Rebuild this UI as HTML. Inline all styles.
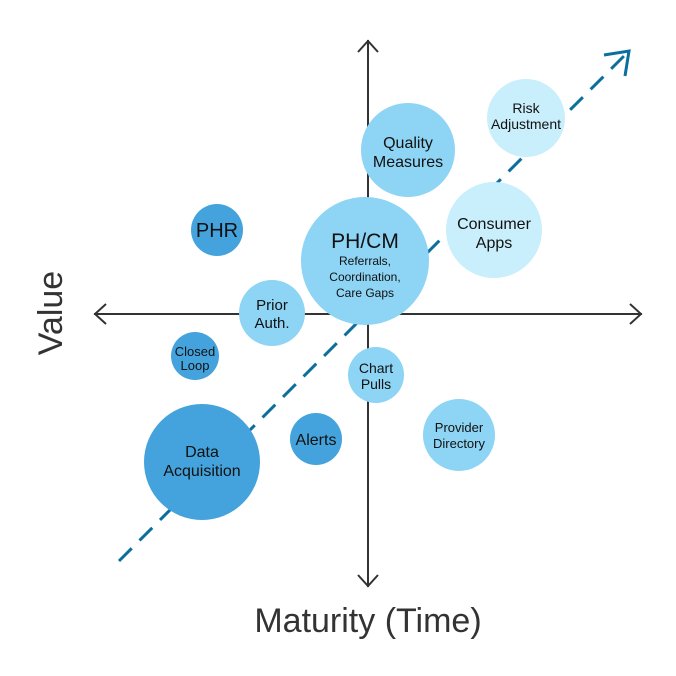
<!DOCTYPE html>
<html><head><meta charset="utf-8"><style>
html,body{margin:0;padding:0;background:#fff;}
svg{display:block;font-family:"Liberation Sans","DejaVu Sans",sans-serif;}
</style></head><body>
<svg width="676" height="676" viewBox="0 0 676 676" xmlns="http://www.w3.org/2000/svg">
<g stroke="#333" stroke-width="2" fill="none">
<line x1="94" y1="314" x2="642" y2="314"/>
<polyline points="106,304 95,314 106,324"/>
<polyline points="630,304 641,314 630,324"/>
<line x1="368" y1="40" x2="368" y2="587"/>
<polyline points="358,52 368,41 378,52"/>
<polyline points="358,575 368,586 378,575"/>
</g>
<line x1="119" y1="561" x2="626" y2="54" stroke="#0b6f9e" stroke-width="3" stroke-dasharray="18,11"/>
<polyline points="604,55 629,51 625,76" stroke="#0b6f9e" stroke-width="3" fill="none"/>
<g>
<circle cx="526" cy="118" r="39" fill="#c9effc"/>
<circle cx="408" cy="150" r="47" fill="#8dd4f5"/>
<circle cx="494" cy="230" r="48" fill="#c9effc"/>
<circle cx="365" cy="261" r="64" fill="#8dd4f5"/>
<circle cx="217" cy="230" r="26" fill="#44a3dc"/>
<circle cx="272" cy="313" r="33" fill="#8dd4f5"/>
<circle cx="195" cy="356" r="24" fill="#44a3dc"/>
<circle cx="376" cy="375" r="28" fill="#8dd4f5"/>
<circle cx="316" cy="439" r="26" fill="#44a3dc"/>
<circle cx="459" cy="435" r="36" fill="#8dd4f5"/>
<circle cx="202" cy="462" r="58" fill="#44a3dc"/>
</g>
<g fill="#111" text-anchor="middle">
<text x="526" y="113" font-size="14">Risk</text>
<text x="526" y="129" font-size="14">Adjustment</text>
<text x="408" y="148" font-size="16">Quality</text>
<text x="408" y="167" font-size="16">Measures</text>
<text x="494" y="229" font-size="16">Consumer</text>
<text x="494" y="248" font-size="16">Apps</text>
<text x="365" y="248" font-size="21">PH/CM</text>
<text x="365" y="265" font-size="12">Referrals,</text>
<text x="365" y="281" font-size="12">Coordination,</text>
<text x="365" y="297" font-size="12">Care Gaps</text>
<text x="217" y="237" font-size="20">PHR</text>
<text x="272" y="310" font-size="15">Prior</text>
<text x="272" y="328" font-size="15">Auth.</text>
<text x="195" y="356" font-size="13">Closed</text>
<text x="195" y="370" font-size="13">Loop</text>
<text x="376" y="373" font-size="14">Chart</text>
<text x="376" y="389" font-size="14">Pulls</text>
<text x="316" y="445" font-size="16">Alerts</text>
<text x="459" y="432" font-size="13">Provider</text>
<text x="459" y="448" font-size="13">Directory</text>
<text x="202" y="457" font-size="16">Data</text>
<text x="202" y="476" font-size="16">Acquisition</text>
</g>
<g fill="#333" text-anchor="middle" font-size="34">
<text x="368" y="632">Maturity (Time)</text>
<text transform="translate(62,313) rotate(-90)" x="0" y="0">Value</text>
</g>
</svg>
</body></html>
